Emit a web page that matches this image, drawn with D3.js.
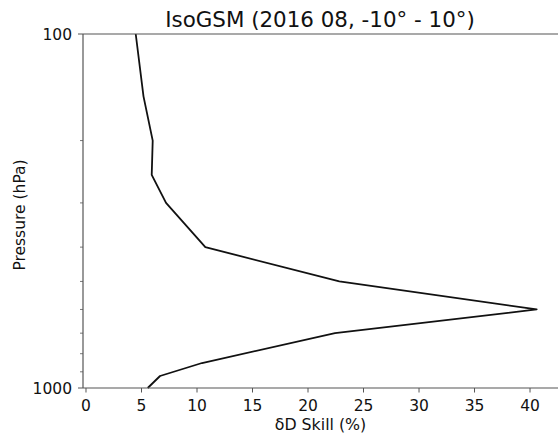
<!DOCTYPE html>
<html>
<head>
<meta charset="utf-8">
<script src="https://cdn.jsdelivr.net/npm/d3@7"></script>
<style>
  body { margin: 0; background: #fff; }
  text { font-family: "DejaVu Sans", sans-serif; fill: #111; }
</style>
</head>
<body>
<svg id="chart" width="558" height="441"></svg>
<script>
// Pressure levels (hPa) and skill values (%).
const pressure = [100, 150, 200, 250, 300, 400, 500, 600, 700, 850, 925, 1000];
const skill = [4.48, 5.18, 6.01, 5.92, 7.21, 10.75, 22.82, 40.6, 22.43, 10.45, 6.67, 5.56];
const xTicks = [0, 5, 10, 15, 20, 25, 30, 35, 40];
const yMajor = [100, 1000];
const yMinor = [200, 300, 400, 500, 600, 700, 800, 900];

const svg = d3.select('#chart');
const margin = { left: 83, top: 34, right: 558, bottom: 388 };

const x = d3.scaleLinear().domain([-0.27, 42.52]).range([margin.left, margin.right]);
const y = d3.scaleLog().domain([100, 1000]).range([margin.top, margin.bottom]);

const axisColor = '#555';
const tickFont = 15.5;

// Curve.
const line = d3.line()
  .x((d, i) => x(skill[i]))
  .y(d => y(d));

svg.append('path')
  .datum(pressure)
  .attr('d', line)
  .attr('fill', 'none')
  .attr('stroke', '#111')
  .attr('stroke-width', 1.8)
  .attr('stroke-linejoin', 'round');

// Spines: left, top, bottom.
svg.append('line')
  .attr('x1', margin.left).attr('x2', margin.left)
  .attr('y1', margin.top).attr('y2', margin.bottom)
  .attr('stroke', axisColor).attr('stroke-width', 1.2);
svg.append('line')
  .attr('x1', margin.left).attr('x2', margin.right)
  .attr('y1', margin.top).attr('y2', margin.top)
  .attr('stroke', axisColor).attr('stroke-width', 1.2);
svg.append('line')
  .attr('x1', margin.left).attr('x2', margin.right)
  .attr('y1', margin.bottom).attr('y2', margin.bottom)
  .attr('stroke', axisColor).attr('stroke-width', 1.2);

// X ticks.
const xg = svg.append('g');
xTicks.forEach(t => {
  xg.append('line')
    .attr('x1', x(t)).attr('x2', x(t))
    .attr('y1', margin.bottom).attr('y2', margin.bottom + 4.5)
    .attr('stroke', axisColor).attr('stroke-width', 1);
  xg.append('text')
    .attr('x', x(t)).attr('y', 410.5)
    .attr('text-anchor', 'middle')
    .attr('font-size', tickFont)
    .text(t);
});

// Y ticks.
const yg = svg.append('g');
yMajor.forEach(t => {
  yg.append('line')
    .attr('x1', margin.left - 5).attr('x2', margin.left)
    .attr('y1', y(t)).attr('y2', y(t))
    .attr('stroke', axisColor).attr('stroke-width', 1);
  yg.append('text')
    .attr('x', 72).attr('y', y(t))
    .attr('dy', '0.36em')
    .attr('text-anchor', 'end')
    .attr('font-size', tickFont)
    .text(t);
});
yMinor.forEach(t => {
  yg.append('line')
    .attr('x1', margin.left - 3).attr('x2', margin.left)
    .attr('y1', y(t)).attr('y2', y(t))
    .attr('stroke', axisColor).attr('stroke-width', 0.8);
});

// Labels and title.
svg.append('text')
  .attr('x', (margin.left + margin.right) / 2).attr('y', 430)
  .attr('text-anchor', 'middle')
  .attr('font-size', 15.8)
  .text('\u03b4D Skill (%)');

svg.append('text')
  .attr('transform', `translate(24.5,${(margin.top + margin.bottom) / 2 + 4}) rotate(-90)`)
  .attr('text-anchor', 'middle')
  .attr('font-size', 15.5)
  .text('Pressure (hPa)');

svg.append('text')
  .attr('x', 320).attr('y', 27)
  .attr('text-anchor', 'middle')
  .attr('font-size', 21.4)
  .text('IsoGSM (2016 08, -10\u00b0 - 10\u00b0)');
</script>
</body>
</html>
